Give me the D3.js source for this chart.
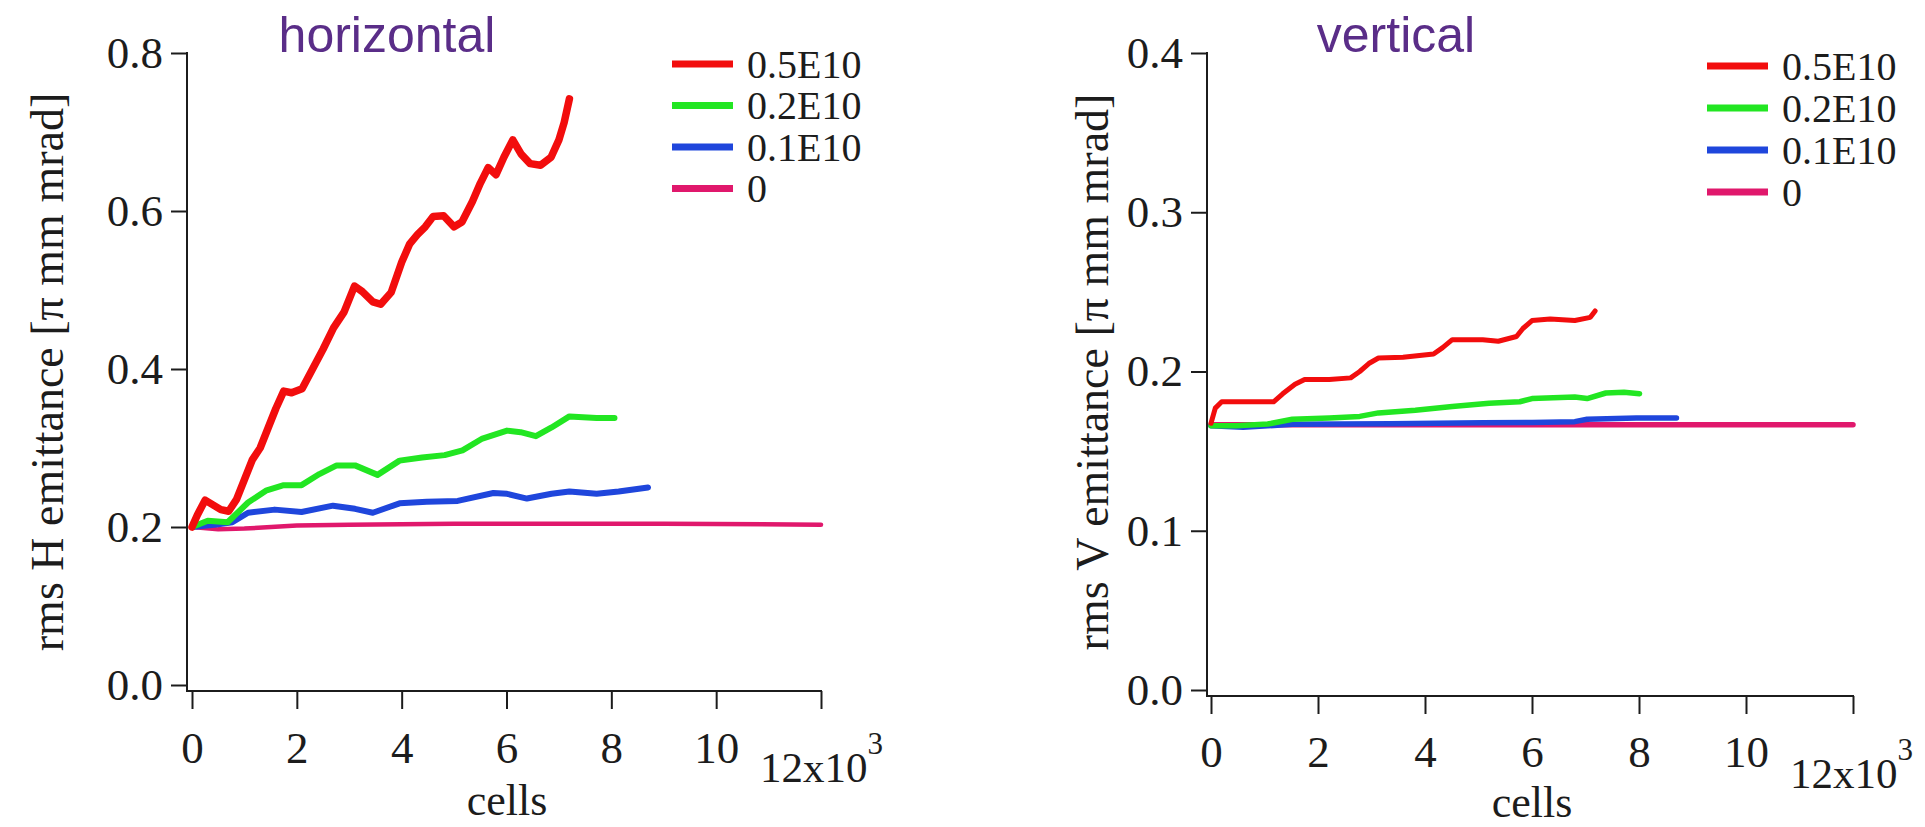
<!DOCTYPE html>
<html><head><meta charset="utf-8">
<script src="https://cdn.jsdelivr.net/npm/d3@7"></script>
<style>body{margin:0;background:#fff}svg{display:block}</style>
</head><body>
<svg id="c" width="1925" height="827"></svg>
<script>
// ---------- data (x in thousands of cells) ----------
const seriesNames = ["0.5E10", "0.2E10", "0.1E10", "0"];
const xTicks = [0, 2, 4, 6, 8, 10, 12];
const hYTicks = [0, 0.2, 0.4, 0.6, 0.8];
const vYTicks = [0, 0.1, 0.2, 0.3, 0.4];

const hRed = [[0,0.20],[0.1,0.215],[0.25,0.234],[0.4,0.228],[0.55,0.222],[0.7,0.220],[0.85,0.235],[1.0,0.26],[1.15,0.285],[1.3,0.30],[1.45,0.325],[1.6,0.35],[1.75,0.372],[1.9,0.37],[2.1,0.375],[2.3,0.40],[2.5,0.425],[2.7,0.452],[2.9,0.472],[3.1,0.505],[3.25,0.498],[3.45,0.485],[3.6,0.482],[3.8,0.497],[4.0,0.535],[4.15,0.558],[4.3,0.570],[4.45,0.580],[4.6,0.593],[4.8,0.594],[5.0,0.580],[5.15,0.586],[5.35,0.612],[5.5,0.635],[5.65,0.655],[5.8,0.646],[5.95,0.668],[6.12,0.690],[6.28,0.672],[6.45,0.660],[6.65,0.658],[6.85,0.668],[7.0,0.690],[7.1,0.712],[7.2,0.742]];
const hGreen = [[0,0.20],[0.3,0.208],[0.68,0.206],[1.07,0.231],[1.41,0.246],[1.75,0.253],[2.09,0.253],[2.43,0.267],[2.76,0.278],[3.11,0.278],[3.54,0.266],[3.96,0.284],[4.39,0.288],[4.82,0.291],[5.16,0.297],[5.54,0.312],[6.01,0.322],[6.27,0.320],[6.56,0.315],[6.86,0.326],[7.2,0.340],[7.72,0.338],[8.06,0.338]];
const hBlue = [[0,0.20],[0.47,0.203],[0.77,0.206],[1.07,0.218],[1.58,0.222],[2.09,0.219],[2.69,0.227],[3.11,0.223],[3.45,0.218],[3.96,0.230],[4.48,0.232],[5.07,0.233],[5.75,0.243],[6.01,0.242],[6.39,0.236],[6.86,0.242],[7.2,0.245],[7.72,0.242],[8.14,0.245],[8.7,0.250]];
const hPink = [[0,0.20],[0.5,0.197],[1.0,0.198],[2.0,0.202],[3.0,0.203],[5.0,0.204],[7.0,0.204],[9.0,0.204],[12.0,0.203]];

const vRed = [[0,0.1675],[0.08,0.177],[0.2,0.181],[0.71,0.181],[1.17,0.181],[1.34,0.186],[1.57,0.192],[1.75,0.195],[2.21,0.195],[2.61,0.196],[2.78,0.200],[2.95,0.205],[3.13,0.2085],[3.59,0.209],[4.16,0.211],[4.33,0.215],[4.51,0.220],[5.08,0.220],[5.37,0.219],[5.71,0.222],[5.83,0.227],[6.0,0.232],[6.34,0.233],[6.8,0.232],[7.09,0.234],[7.18,0.238]];
const vGreen = [[0,0.166],[0.48,0.166],[1.06,0.167],[1.52,0.170],[2.21,0.1708],[2.78,0.1718],[3.13,0.174],[3.82,0.1757],[4.51,0.178],[5.2,0.180],[5.77,0.181],[6.0,0.183],[6.8,0.184],[7.03,0.183],[7.38,0.1865],[7.72,0.187],[8.01,0.186]];
const vBlue = [[0,0.166],[0.6,0.165],[1.52,0.1668],[3.36,0.1672],[5.08,0.1678],[6.0,0.168],[6.8,0.1685],[7.03,0.170],[7.95,0.1708],[8.7,0.1708]];
const vPink = [[0,0.1665],[3.0,0.1665],[6.0,0.1665],[9.0,0.1665],[12.0,0.1665]];

// ---------- styles ----------
const colors = ["#f20d0d", "#22e622", "#1f46dc", "#e0186c"];
const serif = "'Liberation Serif','Times New Roman',serif";
const sans = "'Liberation Sans',Arial,sans-serif";
const ink = "#1c1c1c";

const svg = d3.select("#c");

function panel(cfg) {
  const g = svg.append("g");
  const x = d3.scaleLinear().domain([0, 12]).range(cfg.xr);
  const y = d3.scaleLinear().domain([0, cfg.ymax]).range(cfg.yr);

  const line = d3.line().x(d => x(d[0])).y(d => y(d[1])).curve(d3.curveLinear);
  [3, 2, 1, 0].forEach(i => {
    g.append("path").datum(cfg.series[i])
      .attr("d", line).attr("fill", "none")
      .attr("stroke", colors[i]).attr("stroke-width", cfg.widths[i])
      .attr("stroke-linejoin", "round").attr("stroke-linecap", "round");
  });

  // y axis
  const ya = g.append("g").attr("transform", `translate(${cfg.yAxisX},0)`)
    .call(d3.axisLeft(y).tickValues(cfg.yTicks).tickFormat(d3.format(".1f")).tickSize(16).tickPadding(8));
  ya.select(".domain").remove();
  ya.selectAll("line").attr("stroke", ink).attr("stroke-width", 2);
  ya.selectAll("text").attr("font-family", serif).attr("font-size", 45).attr("fill", ink);
  g.append("line").attr("x1", cfg.yAxisX).attr("x2", cfg.yAxisX)
    .attr("y1", y(cfg.ymax) - 1).attr("y2", cfg.xAxisY + 1)
    .attr("stroke", ink).attr("stroke-width", 2);

  // x axis
  const xa = g.append("g").attr("transform", `translate(0,${cfg.xAxisY})`)
    .call(d3.axisBottom(x).tickValues(xTicks).tickFormat(d => d === 12 ? "" : d).tickSize(18).tickPadding(cfg.xPad));
  xa.select(".domain").remove();
  xa.selectAll("line").attr("stroke", ink).attr("stroke-width", 2);
  xa.selectAll("text").attr("font-family", serif).attr("font-size", 45).attr("fill", ink);
  g.append("line").attr("x1", cfg.yAxisX - 1).attr("x2", x(12) + 1)
    .attr("y1", cfg.xAxisY).attr("y2", cfg.xAxisY)
    .attr("stroke", ink).attr("stroke-width", 2);

  // 12x10^3 label
  const t = g.append("text").attr("x", cfg.expX).attr("y", cfg.expY)
    .attr("font-family", serif).attr("font-size", 43).attr("fill", ink);
  t.append("tspan").text("12x10");
  t.append("tspan").attr("dy", -28).attr("font-size", 31).text("3");

  // axis titles
  g.append("text").attr("x", cfg.cellsX).attr("y", cfg.cellsY).attr("text-anchor", "middle")
    .attr("font-family", serif).attr("font-size", 44).attr("fill", ink).text("cells");
  g.append("text").attr("transform", `translate(${cfg.ylabX},${cfg.ylabY}) rotate(-90)`)
    .attr("text-anchor", "middle").attr("dominant-baseline", "central")
    .attr("font-family", serif).attr("font-size", 46).attr("fill", ink).text(cfg.ylab);

  // panel title
  g.append("text").attr("x", cfg.titleX).attr("y", 52).attr("text-anchor", "middle")
    .attr("font-family", sans).attr("font-size", 50).attr("fill", "#5a2d88").text(cfg.title);

  // legend
  const lg = g.append("g");
  seriesNames.forEach((n, i) => {
    const yy = cfg.legY + i * cfg.legStep;
    lg.append("line").attr("x1", cfg.legX).attr("x2", cfg.legX + 61).attr("y1", yy).attr("y2", yy)
      .attr("stroke", colors[i]).attr("stroke-width", 7);
    lg.append("text").attr("x", cfg.legX + 75).attr("y", yy).attr("dominant-baseline", "central")
      .attr("font-family", serif).attr("font-size", 40).attr("fill", ink).text(n);
  });
}

panel({
  xr: [192, 821], yr: [685, 53], ymax: 0.8, yTicks: hYTicks,
  yAxisX: 187, xAxisY: 691, xPad: 22,
  series: [hRed, hGreen, hBlue, hPink], widths: [7.5, 6, 6, 4.5],
  expX: 760, expY: 782, cellsX: 507, cellsY: 815,
  ylabX: 47, ylabY: 372, ylab: "rms H emittance [\u03c0 mm mrad]",
  title: "horizontal", titleX: 387, legX: 672, legY: 64, legStep: 41.5
});
panel({
  xr: [1211, 1853], yr: [690, 53], ymax: 0.4, yTicks: vYTicks,
  yAxisX: 1207, xAxisY: 696, xPad: 21,
  series: [vRed, vGreen, vBlue, vPink], widths: [5, 5.5, 5.5, 5.5],
  expX: 1790, expY: 788, cellsX: 1532, cellsY: 817,
  ylabX: 1092, ylabY: 372, ylab: "rms V emittance [\u03c0 mm mrad]",
  title: "vertical", titleX: 1396, legX: 1707, legY: 66, legStep: 42
});
</script>
</body></html>
